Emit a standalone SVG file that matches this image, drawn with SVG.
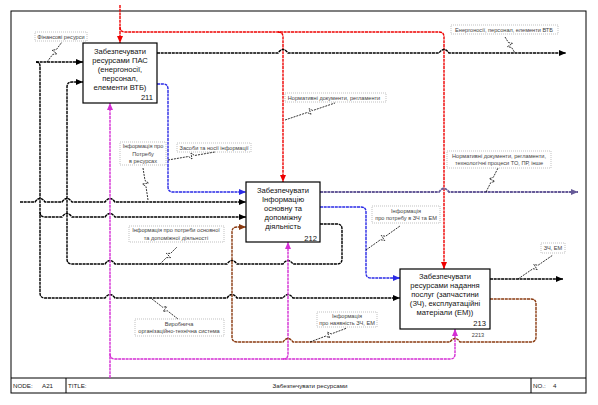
<svg xmlns="http://www.w3.org/2000/svg" width="598" height="405" viewBox="0 0 598 405">
<defs>
<style>
text{font-family:"Liberation Sans",Arial,sans-serif}
.box{fill:#fff;stroke:#000;stroke-width:1.2}
.bt{font-size:7.6px;fill:#111;text-anchor:middle}
.num{font-size:7.6px;fill:#111;text-anchor:end}
.ln{fill:none;stroke-width:1.4;stroke-dasharray:3 0.7}
.k{stroke:#000}
.r{stroke:#ee0000}
.b{stroke:#2a2ae6}
.p{stroke:#d42ed4}
.br{stroke:#8a3a10}
.pu{stroke:#665a98;stroke-width:1.8}
.lbl{font-size:5.6px;fill:#444;text-anchor:middle}
.lb{fill:none;stroke:#999;stroke-width:0.6;stroke-dasharray:1 1}
.sq{fill:none;stroke:#000;stroke-width:0.8;stroke-dasharray:2 1}
.ft{font-size:6.2px;fill:#222}
</style>
<marker id="ak" markerWidth="7" markerHeight="6" refX="7" refY="3" orient="auto" markerUnits="userSpaceOnUse"><path d="M0 0L7 3L0 6z" fill="#000"/></marker>
<marker id="ar" markerWidth="7" markerHeight="6" refX="7" refY="3" orient="auto" markerUnits="userSpaceOnUse"><path d="M0 0L7 3L0 6z" fill="#ee0000"/></marker>
<marker id="ab" markerWidth="7" markerHeight="6" refX="7" refY="3" orient="auto" markerUnits="userSpaceOnUse"><path d="M0 0L7 3L0 6z" fill="#2a2ae6"/></marker>
<marker id="ap" markerWidth="7" markerHeight="6" refX="7" refY="3" orient="auto" markerUnits="userSpaceOnUse"><path d="M0 0L7 3L0 6z" fill="#d42ed4"/></marker>
<marker id="abr" markerWidth="7" markerHeight="6" refX="7" refY="3" orient="auto" markerUnits="userSpaceOnUse"><path d="M0 0L7 3L0 6z" fill="#8a3a10"/></marker>
<marker id="apu" markerWidth="7" markerHeight="6" refX="7" refY="3" orient="auto" markerUnits="userSpaceOnUse"><path d="M0 0L7 3L0 6z" fill="#665a98"/></marker>
</defs>
<rect width="598" height="405" fill="#fff"/>
<g id="frame">
<rect x="11" y="11" width="575" height="382" fill="none" stroke="#000" stroke-width="1"/>
<line x1="11" y1="378" x2="586" y2="378" stroke="#000" stroke-width="1"/>
<line x1="66" y1="378" x2="66" y2="393" stroke="#000" stroke-width="1"/>
<line x1="531" y1="378" x2="531" y2="393" stroke="#000" stroke-width="1"/>
<text class="ft" x="13" y="388">NODE:</text>
<text class="ft" x="42" y="388">A21</text>
<text class="ft" x="68" y="388">TITLE:</text>
<text class="ft" x="310" y="388" text-anchor="middle" fill="#555">Забезпечувати ресурсами</text>
<text class="ft" x="533" y="388">NO.:</text>
<text class="ft" x="553" y="388">4</text>
</g>
<g id="connectors">
<path class="ln r" d="M120 5L120 43" marker-end="url(#ar)"/>
<path class="ln r" d="M120 27Q120 32 125 32L439 32Q444 32 444 37L444 269" marker-end="url(#ar)"/>
<path class="ln r" d="M278 32Q283 32 283 37L283 182" marker-end="url(#ar)"/>
<path class="ln k" d="M157 53L278 53Q283 46 288 53L439 53Q444 46 449 53L566 53" marker-end="url(#ak)"/>
<path class="ln b" d="M157 84L163 84Q168 84 168 89L168 187Q168 192 173 192L246 192" marker-end="url(#ab)"/>
<path class="ln k" d="M36 62L83 62" marker-end="url(#ak)"/>
<path class="ln k" d="M36 62Q40 62 40 66L40 293Q40 298 45 298L105 298Q110 291 115 298L227 298Q232 291 237 298L283 298Q288 291 293 298L400 298" marker-end="url(#ak)"/>
<path class="ln k" d="M40 212Q40 217 45 217L62 217Q67 210 72 217L105 217Q110 210 115 217L246 217" marker-end="url(#ak)"/>
<path class="ln k" d="M20 202L35 202Q40 195 45 202L62 202Q67 195 72 202L105 202Q110 195 115 202L246 202" marker-end="url(#ak)"/>
<path class="ln k" d="M320 224L337 224Q342 224 342 229L342 259Q342 264 337 264L293 264Q288 257 283 264L237 264Q232 257 227 264L115 264Q110 257 105 264L72 264Q67 264 67 259L67 87Q67 82 72 82L83 82" marker-end="url(#ak)"/>
<path class="ln p" d="M110 378L110 103" marker-end="url(#ap)"/>
<path class="ln p" d="M110 354Q110 359 115 359L450 359Q455 359 455 354L455 329" marker-end="url(#ap)"/>
<path class="ln p" d="M283 359Q288 359 288 354L288 242" marker-end="url(#ap)"/>
<path class="ln pu" d="M320 192L439 192Q444 185 449 192L578 192" marker-end="url(#apu)"/>
<path class="ln b" d="M320 207L361 207Q366 207 366 212L366 273Q366 278 371 278L400 278" marker-end="url(#ab)"/>
<path class="ln k" d="M490 279L563 279" marker-end="url(#ak)"/>
<path class="ln br" d="M490 299L531 299Q536 299 536 304L536 337Q536 342 531 342L460 342Q455 335 450 342L293 342Q288 335 283 342L237 342Q232 342 232 337L232 232Q232 227 237 227L246 227" marker-end="url(#abr)"/>
</g>
<g id="labels">
<rect class="lb" x="35" y="32" width="52" height="9"/>
<text class="lbl" x="61" y="38.5">Фінансові ресурси</text>
<path class="sq" d="M47 62L52.7 54.4L56.9 53.8L52.1 50.2L56.3 49.6L62 42"/>
<rect class="lb" x="451" y="25" width="107" height="9"/>
<text class="lbl" x="504" y="31.5">Енергоносії, персонал, елементи ВТБ</text>
<path class="sq" d="M505 37L508.4 42.5L512.5 43.4L507.5 46.6L511.6 47.5L515 53"/>
<rect class="lb" x="285" y="93" width="101" height="9"/>
<text class="lbl" x="334" y="99.5">Нормативні документи, регламенти</text>
<path class="sq" d="M285 120L307.2 112.5L311 114.3L309 108.7L312.8 110.5L335 103"/>
<rect class="lb" x="177" y="143" width="74" height="9"/>
<text class="lbl" x="214" y="149.5">Засоби та носії інформації</text>
<path class="sq" d="M168 160L188.5 156.5L192 159L191 153L194.5 155.5L215 152"/>
<rect class="lb" x="120" y="142" width="46" height="23"/>
<text class="lbl" x="143" y="148">Інформація про</text>
<text class="lbl" x="143" y="155.5">Потребу</text>
<text class="lbl" x="143" y="163">в ресурсах</text>
<path class="sq" d="M143 168L145 180.5L148.5 183L142.5 184L146 186.5L148 200"/>
<rect class="lb" x="447" y="151" width="104" height="17"/>
<text class="lbl" x="499" y="157.5">Нормативні документи, регламенти,</text>
<text class="lbl" x="499" y="165">технологічні процеси ТО, ПР, інше</text>
<path class="sq" d="M486 192L490.7 182.7L494.7 181.3L489.3 178.7L493.3 177.3L498 168"/>
<rect class="lb" x="129" y="226" width="95" height="16"/>
<text class="lbl" x="176" y="232">Інформація про потреби основної</text>
<text class="lbl" x="176" y="240">та допоміжної діяльності</text>
<path class="sq" d="M160 264L166.4 257.6L170.6 257.6L166.4 253.4L170.6 253.4L177 247"/>
<rect class="lb" x="372" y="206" width="68" height="17"/>
<text class="lbl" x="406" y="212.5">Інформація</text>
<text class="lbl" x="406" y="220">про потребу в ЗЧ та ЕМ</text>
<path class="sq" d="M366 250L380.5 239.7L384.7 240.5L381.3 235.5L385.5 236.3L400 226"/>
<rect class="lb" x="541" y="243" width="24" height="10"/>
<text class="lbl" x="553" y="250">ЗЧ, ЕМ</text>
<path class="sq" d="M518 279L533 268.7L537.2 269.5L533.8 264.5L538 265.3L553 255"/>
<rect class="lb" x="135" y="319" width="89" height="17"/>
<text class="lbl" x="179" y="325.5">Виробнича</text>
<text class="lbl" x="179" y="333">організаційно-технічна система</text>
<path class="sq" d="M152 299L162.6 307.2L166.8 306.6L163.2 311.4L167.4 310.8L178 319"/>
<rect class="lb" x="317" y="312" width="60" height="15"/>
<text class="lbl" x="347" y="317.5">Інформація</text>
<text class="lbl" x="347" y="325">про наявність ЗЧ, ЕМ</text>
<path class="sq" d="M310 342L325.7 336.1L329.6 337.8L327.4 332.2L331.3 333.9L347 328"/>
<text class="lbl" x="478" y="337">2213</text>
</g>
<g id="node-211">
<rect class="box" x="83" y="43" width="74" height="60"/>
<text class="bt" x="120" y="53.5">Забезпечувати</text>
<text class="bt" x="120" y="62.5">ресурсами ПАС</text>
<text class="bt" x="120" y="71.5">(енергоносії,</text>
<text class="bt" x="120" y="80.5">персонал,</text>
<text class="bt" x="120" y="89.5">елементи ВТБ)</text>
<text class="num" x="153" y="100">211</text>
</g>
<g id="node-212">
<rect class="box" x="246" y="182" width="74" height="60"/>
<text class="bt" x="283" y="193">Забезпечувати</text>
<text class="bt" x="283" y="202">Інформацію</text>
<text class="bt" x="283" y="211">основну та</text>
<text class="bt" x="283" y="220">допоміжну</text>
<text class="bt" x="283" y="229">діяльність</text>
<text class="num" x="317" y="240.5">212</text>
</g>
<g id="node-213">
<rect class="box" x="400" y="269" width="90" height="60"/>
<text class="bt" x="445" y="279">Забезпечувати</text>
<text class="bt" x="445" y="288">ресурсами надання</text>
<text class="bt" x="445" y="297">послуг (запчастини</text>
<text class="bt" x="445" y="306">(ЗЧ), експлуатаційні</text>
<text class="bt" x="445" y="315">матеріали (ЕМ))</text>
<text class="num" x="486" y="325.5">213</text>
</g>
</svg>
